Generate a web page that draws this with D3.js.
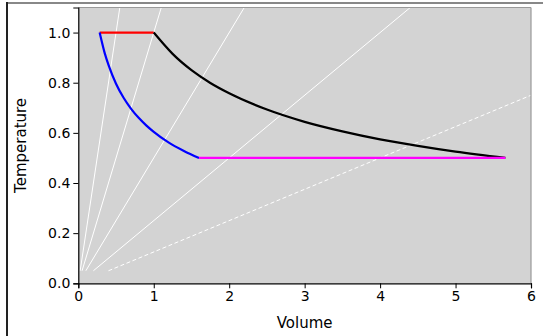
<!DOCTYPE html>
<html>
<head>
<meta charset="utf-8">
<script src="https://d3js.org/d3.v7.min.js"></script>
<style>
  body { margin: 0; background: #fff; }
  text { font-family: "DejaVu Sans", sans-serif; }
</style>
</head>
<body>
<svg width="543" height="336"></svg>
<script>
// isotherm T = 1
var hotV = [0.283, 1.0];
var hotT = [1.0, 1.0];
// adiabat from V = 1 down to T = 0.5
var expV = [1.0, 1.25, 1.5, 1.75, 2.0, 2.5, 3.0, 3.5, 4.0, 4.5, 5.0, 5.66];
var expT = [1.0, 0.915, 0.850, 0.799, 0.758, 0.693, 0.644, 0.606, 0.574, 0.548, 0.525, 0.5];
// isotherm T = 0.5
var coldV = [1.6, 5.66];
var coldT = [0.5, 0.5];
// adiabat back up to T = 1
var compV = [0.283, 0.35, 0.4, 0.5, 0.6, 0.7, 0.8, 0.9, 1.0, 1.2, 1.4, 1.6];
var compT = [1.0, 0.918, 0.871, 0.796, 0.740, 0.696, 0.660, 0.630, 0.604, 0.561, 0.528, 0.5];

// white guide lines: start and end points
var guideV0 = [0.025, 0.05, 0.1, 0.2, 0.4];
var guideT0 = [0.05, 0.05, 0.05, 0.05, 0.05];
var guideV1 = [0.55, 1.1, 2.2, 4.4, 6.0];
var guideT1 = [1.1, 1.1, 1.1, 1.1, 0.75];
var guideDash = [false, false, false, false, true];

var xTicks = [0, 1, 2, 3, 4, 5, 6];
var yTicks = [0, 0.2, 0.4, 0.6, 0.8, 1.0];

var svg = d3.select("svg");
var mLeft = 78.3, mRight = 531, mTop = 7.5, mBottom = 283.3;

// figure frame (partly cropped)
svg.append("line").attr("x1", 6).attr("x2", 543).attr("y1", 3).attr("y2", 3)
    .attr("stroke", "#888").attr("stroke-width", 2);
svg.append("line").attr("x1", 7).attr("x2", 7).attr("y1", 2).attr("y2", 336)
    .attr("stroke", "#222").attr("stroke-width", 2);

var x = d3.scaleLinear().domain([0, 6]).range([mLeft, mRight]);
var y = d3.scaleLinear().domain([0, 1.1]).range([mBottom, mTop]);

svg.append("defs").append("clipPath").attr("id", "clip")
  .append("rect")
    .attr("x", mLeft).attr("y", mTop)
    .attr("width", mRight - mLeft).attr("height", mBottom - mTop);

svg.append("rect")
    .attr("x", mLeft).attr("y", mTop)
    .attr("width", mRight - mLeft).attr("height", mBottom - mTop)
    .attr("fill", "#d3d3d3");

var plot = svg.append("g").attr("clip-path", "url(#clip)");

guideV0.forEach(function(v, i) {
    plot.append("line")
        .attr("x1", x(v)).attr("y1", y(guideT0[i]))
        .attr("x2", x(guideV1[i])).attr("y2", y(guideT1[i]))
        .attr("stroke", "#fff")
        .attr("stroke-width", 1)
        .attr("stroke-dasharray", guideDash[i] ? "4,2.5" : null);
});

var line = d3.line()
    .x(function(d) { return x(d[0]); })
    .y(function(d) { return y(d[1]); })
    .curve(d3.curveMonotoneX);

function curve(vs, ts, color) {
    plot.append("path")
        .datum(d3.zip(vs, ts))
        .attr("d", line)
        .attr("fill", "none")
        .attr("stroke", color)
        .attr("stroke-width", 2.2);
}
curve(hotV, hotT, "#ff0000");
curve(expV, expT, "#000000");
curve(compV, compT, "#0000ff");
curve(coldV, coldT, "#ff00ff");

// spines
svg.append("line").attr("x1", mLeft).attr("x2", mRight).attr("y1", mTop).attr("y2", mTop)
    .attr("stroke", "#999").attr("stroke-width", 1.2);
svg.append("line").attr("x1", mRight).attr("x2", mRight).attr("y1", mTop).attr("y2", mBottom)
    .attr("stroke", "#999").attr("stroke-width", 1.2);

var xAxis = svg.append("g")
    .attr("transform", "translate(0," + mBottom + ")")
    .call(d3.axisBottom(x).tickValues(xTicks).tickSize(5).tickPadding(3)
        .tickFormat(d3.format("d")));
var yAxis = svg.append("g")
    .attr("transform", "translate(" + mLeft + ",0)")
    .call(d3.axisLeft(y).tickValues(yTicks).tickSize(5).tickPadding(3)
        .tickFormat(d3.format(".1f")));

[xAxis, yAxis].forEach(function(a) {
    a.selectAll("text").attr("font-size", 14).attr("fill", "#000")
        .attr("font-family", "DejaVu Sans");
    a.select(".domain").attr("stroke", "#000").attr("stroke-width", 1.2);
    a.selectAll(".tick line").attr("stroke", "#000");
});

svg.append("text")
    .attr("x", (mLeft + mRight) / 2).attr("y", 328)
    .attr("text-anchor", "middle").attr("font-size", 15)
    .text("Volume");

svg.append("text")
    .attr("transform", "translate(26," + (mTop + mBottom) / 2 + ") rotate(-90)")
    .attr("text-anchor", "middle").attr("font-size", 15)
    .text("Temperature");
</script>
</body>
</html>
